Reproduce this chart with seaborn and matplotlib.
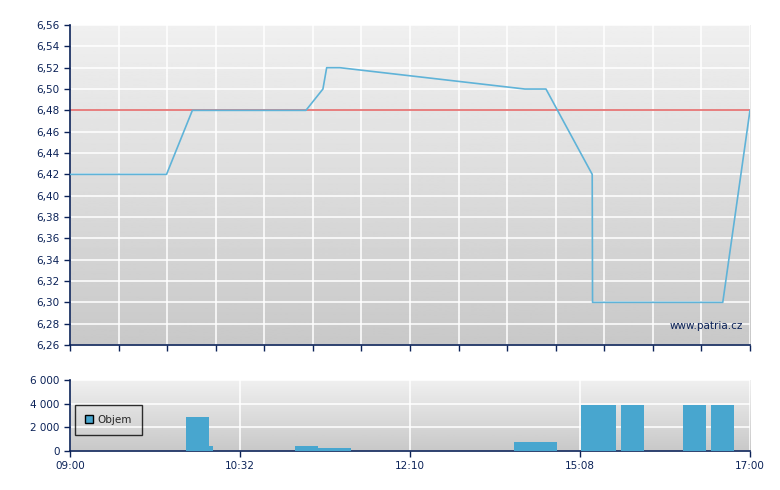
import matplotlib
matplotlib.use("Agg")
import matplotlib.pyplot as plt
import numpy as np
import pandas as pd
import seaborn as sns
from matplotlib.ticker import FuncFormatter, MultipleLocator

# x is position along the trading session in % (0 = 09:00, 100 = 17:00)
price_pos = [0, 14.2, 18.0, 34.7, 37.2, 37.75, 39.7, 66.9, 70.0, 76.8, 76.85, 96.0, 100]
price = [6.42, 6.42, 6.48, 6.48, 6.50, 6.52, 6.52, 6.50, 6.50, 6.42, 6.30, 6.30, 6.48]
ref_price = 6.48

vol_start = [17.06, 20.44, 33.09, 36.47, 65.29, 75.15, 81.03, 90.15, 94.26]
vol_end = [20.44, 21.03, 36.47, 41.32, 71.62, 80.29, 84.41, 93.53, 97.65]
volume = [2900, 350, 380, 200, 700, 3900, 3900, 3900, 3900]

time_ticks = [0, 25, 50, 75, 100]
time_labels = ["09:00", "10:32", "12:10", "15:08", "17:00"]

navy = "#0b2258"
line_col = "#5fb3d8"
bar_col = "#48a6cf"

sns.set_style("white")
plt.rcParams["font.family"] = ["DejaVu Sans"]
plt.rcParams["font.size"] = 7.5

fig = plt.figure(figsize=(7.8, 4.9), dpi=100)
ax1 = fig.add_axes([0.0897, 0.2959, 0.8718, 0.653])
ax2 = fig.add_axes([0.0897, 0.0806, 0.8718, 0.1429])

grad = np.linspace(0.94, 0.785, 256).reshape(-1, 1)
for ax in (ax1, ax2):
    ax.imshow(grad, cmap="gray", vmin=0, vmax=1, aspect="auto",
              extent=[0, 1, 0, 1], transform=ax.transAxes, zorder=-1)
    ax.set_axisbelow(True)
    ax.grid(True, color="white", linewidth=1.1)
    for s in ("top", "right"):
        ax.spines[s].set_visible(False)
    for s in ("left", "bottom"):
        ax.spines[s].set_color(navy)
        ax.spines[s].set_linewidth(1.2)
    ax.tick_params(colors=navy, length=4, width=1, direction="out",
                   left=True, bottom=True, labelcolor=navy)
    ax.set_xlim(0, 100)

# price chart
df = pd.DataFrame({"pos": price_pos, "price": price})
ax1.axhline(ref_price, color="#e46a6a", linewidth=1.2, zorder=2)
sns.lineplot(data=df, x="pos", y="price", ax=ax1, color=line_col,
             linewidth=1.2, estimator=None, sort=False, zorder=3)
ax1.set_ylim(6.26, 6.56)
ax1.yaxis.set_major_locator(MultipleLocator(0.02))
ax1.yaxis.set_major_formatter(FuncFormatter(lambda v, p: f"{v:.2f}".replace(".", ",")))
ax1.set_xticks(np.linspace(0, 100, 15))
ax1.set_xticklabels([])
ax1.set_xlabel("")
ax1.set_ylabel("")
ax1.text(0.99, 0.06, "www.patria.cz", transform=ax1.transAxes,
         ha="right", va="center", color=navy, fontsize=7.5)

# volume chart
widths = np.array(vol_end) - np.array(vol_start)
ax2.bar(vol_start, volume, width=widths, align="edge", color=bar_col,
        linewidth=0, label="Objem", zorder=3)
ax2.set_ylim(0, 6000)
ax2.set_yticks([0, 2000, 4000, 6000])
ax2.yaxis.set_major_formatter(FuncFormatter(lambda v, p: f"{int(v):,}".replace(",", " ")))
ax2.set_xticks(time_ticks)
ax2.set_xticklabels(time_labels)
leg = ax2.legend(loc="upper left", bbox_to_anchor=(0.0074, 0.65), frameon=True,
                 fancybox=False, handlelength=0.8, handleheight=0.8,
                 handletextpad=0.4, borderpad=0.95, borderaxespad=0,
                 fontsize=7.5)
leg.get_frame().set_edgecolor("black")
leg.get_frame().set_facecolor("none")
leg.get_frame().set_linewidth(1)
for h in leg.legend_handles:
    h.set_edgecolor("black")
    h.set_linewidth(1)

fig.savefig("out.png", dpi=100)
